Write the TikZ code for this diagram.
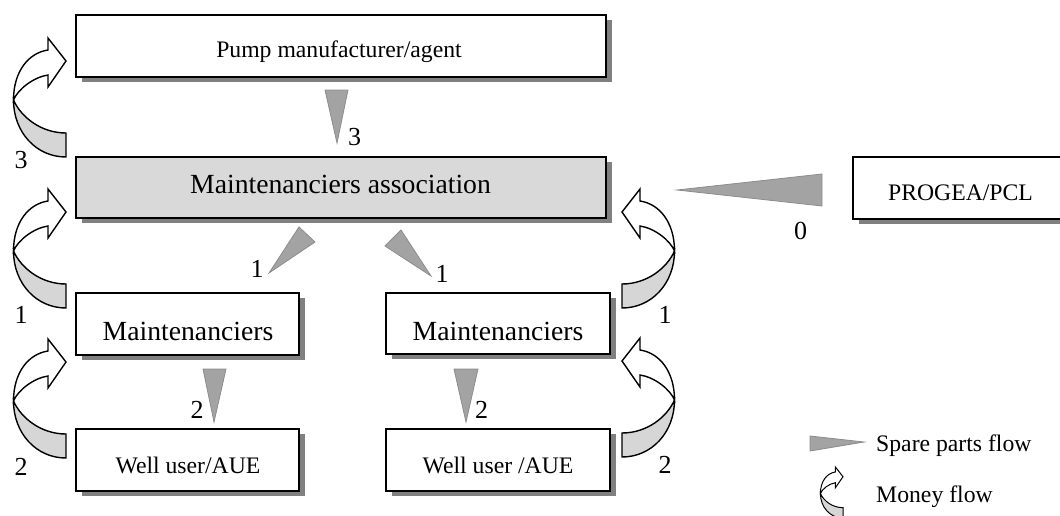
\documentclass[tikz,border=0pt]{standalone}
\usepackage{fontspec}
\setmainfont{Liberation Serif}
\definecolor{shd}{HTML}{808080}
\definecolor{assocfill}{HTML}{D9D9D9}
\definecolor{sparefill}{HTML}{A3A3A3}
\definecolor{sparedraw}{HTML}{8C8C8C}
\definecolor{bandfill}{HTML}{D6D6D6}
\newcommand{\fsSmall}{\fontsize{23.7}{28}\selectfont}
\newcommand{\fsBig}{\fontsize{27.7}{32}\selectfont}
\newcommand{\fsNum}{\fontsize{26}{30}\selectfont}
\begin{document}
\begin{tikzpicture}[x=1pt,y=-1pt,
  box/.style={rectangle, draw=black, line width=1.6pt, fill=white, inner sep=0pt,
    preaction={fill=shd, transform canvas={xshift=6pt,yshift=-5pt}}},
  lbl/.style={inner sep=0pt, anchor=base},
  spare/.style={fill=sparefill, draw=sparedraw, line width=0.8pt, line join=miter},
  moneyline/.style={line width=1.4pt, line join=miter},
  money/.pic={
    \filldraw[fill=bandfill] (0,0) -- (0,-24) .. controls (-25,-24) and (-45,-40) .. (-52.5,-57)
      .. controls (-52.5,-25) and (-30,0) .. (0,0) -- cycle;
    \filldraw[fill=white] (-52.5,-57) .. controls (-52.5,-85) and (-38,-104) .. (-18,-107)
      -- (-18,-119) -- (0,-96) -- (-18,-70) -- (-18,-82)
      .. controls (-32,-80) and (-48,-68) .. (-52.5,-57) -- cycle;
  }]
\useasboundingbox (0,0) rectangle (1060,515);

% boxes
\node[box, minimum width=530pt, minimum height=62pt] (pump) at (341,46) {};
\node[box, fill=assocfill, minimum width=530pt, minimum height=61pt] (assoc) at (341,187.5) {};
\node[box, minimum width=215pt, minimum height=62pt] (progea) at (960.5,188) {};
\node[box, minimum width=223pt, minimum height=62pt] (maintL) at (187.5,324) {};
\node[box, minimum width=224pt, minimum height=61pt] (maintR) at (498,323.5) {};
\node[box, minimum width=223pt, minimum height=62pt] (wellL) at (187.5,460) {};
\node[box, minimum width=224pt, minimum height=62pt] (wellR) at (498,460) {};

% box texts
\node[lbl, font=\fsSmall] (pumpT) at (339,57) {Pump manufacturer/agent};
\node[lbl, font=\fsBig] (assocT) at (340.5,193) {Maintenanciers association};
\node[lbl, font=\fsSmall] (progeaT) at (960.5,200) {PROGEA/PCL};
\node[lbl, font=\fsBig] (maintLT) at (188,340) {Maintenanciers};
\node[lbl, font=\fsBig] (maintRT) at (498,340) {Maintenanciers};
\node[lbl, font=\fsSmall] (wellLT) at (188,473) {Well user/AUE};
\node[lbl, font=\fsSmall] (wellRT) at (498,473) {Well user /AUE};

% spare parts flows
\filldraw[spare] (325,90) -- (348,90) -- (337,143) -- cycle;
\filldraw[spare] (677,190) -- (822,174) -- (822,206) -- cycle;
\filldraw[spare] (299,227) -- (315,242) -- (269,273) -- cycle;
\filldraw[spare] (401,230) -- (385,246) -- (431,276) -- cycle;
\filldraw[spare] (203,369) -- (226,369) -- (214,422) -- cycle;
\filldraw[spare] (454,369) -- (478,369) -- (466,422) -- cycle;

% money flows
\pic[moneyline] at (66,157) {money};
\pic[moneyline] at (66,308) {money};
\pic[moneyline] at (66,458) {money};
\pic[moneyline, xscale=-1] at (622,308) {money};
\pic[moneyline, xscale=-1] at (622,457) {money};

% number labels
\node[lbl, font=\fsNum] (n3) at (354.5,145) {3};
\node[lbl, font=\fsNum] (n0) at (800.5,239) {0};
\node[lbl, font=\fsNum] (n1a) at (257,277) {1};
\node[lbl, font=\fsNum] (n1b) at (442,282) {1};
\node[lbl, font=\fsNum] (n2a) at (197,418) {2};
\node[lbl, font=\fsNum] (n2b) at (481.5,418) {2};
\node[lbl, font=\fsNum] (m3) at (21,168) {3};
\node[lbl, font=\fsNum] (m1a) at (21,323) {1};
\node[lbl, font=\fsNum] (m2a) at (21,475) {2};
\node[lbl, font=\fsNum] (m1b) at (665,323) {1};
\node[lbl, font=\fsNum] (m2b) at (665,473) {2};

% legend
\filldraw[spare] (810,436) -- (810,451) -- (864,442) -- cycle;
\node[lbl, anchor=base west, font=\fsSmall] (legS) at (876,451) {Spare parts flow};
\pic[line width=1pt, line join=miter, scale=0.43] at (843,518) {money};
\node[lbl, anchor=base west, font=\fsSmall] (legM) at (876,502) {Money flow};
\end{tikzpicture}
\end{document}
